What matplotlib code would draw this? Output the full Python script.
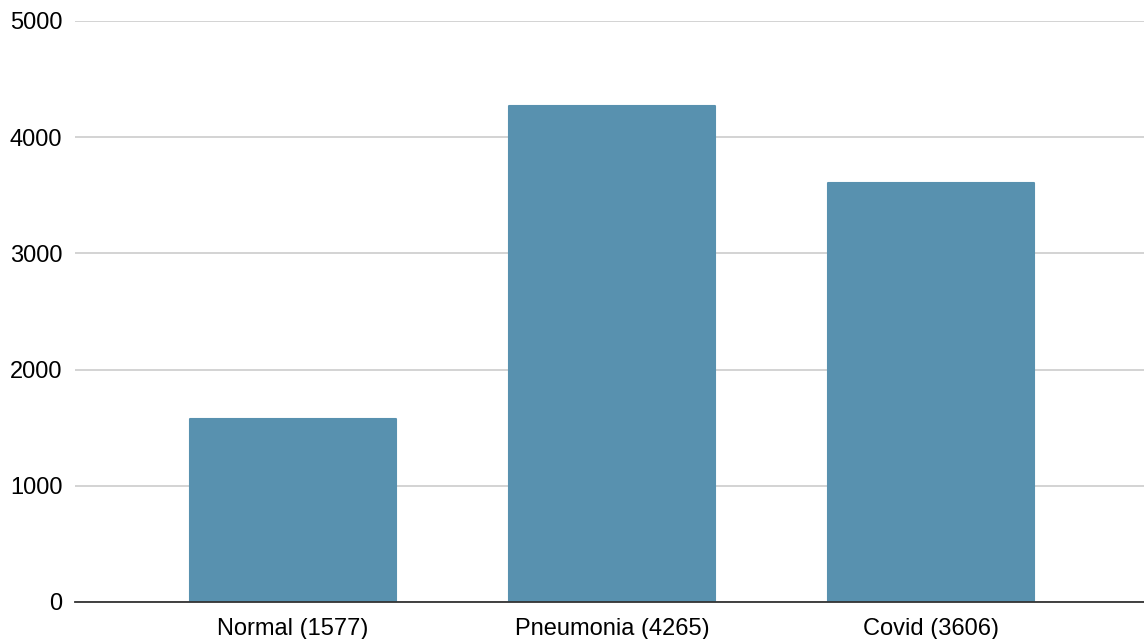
import matplotlib.pyplot as plt

plt.rcParams['font.family'] = ['Liberation Sans', 'DejaVu Sans']

classes = ["Normal", "Pneumonia", "Covid"]
counts = [1577, 4265, 3606]
labels = [f"{c} ({n})" for c, n in zip(classes, counts)]
yticks = [0, 1000, 2000, 3000, 4000, 5000]

BAR = "#5891af"

fig = plt.figure(figsize=(11.44, 6.39), dpi=100)
ax = fig.add_axes([75 / 1144, 37 / 639, 1 - 75 / 1144, 581 / 639])

x = range(len(classes))
# thin edge in the fill colour with round joins gives the soft top corners
ax.bar(x, counts, width=0.645, color=BAR, edgecolor=BAR, linewidth=1.5,
       joinstyle="round", zorder=3)

ax.set_ylim(0, 5000)
ax.set_xlim(-0.683, 2.668)
ax.set_yticks(yticks)
ax.set_xticks(list(x))
ax.set_xticklabels(labels)

ax.yaxis.grid(True, color="#c8c8c8", linewidth=1.1)
ax.set_axisbelow(True)
for s in ["top", "right", "left"]:
    ax.spines[s].set_visible(False)
ax.spines["bottom"].set_color("#333333")
ax.spines["bottom"].set_linewidth(1.3)
ax.spines["bottom"].set_zorder(4)

ax.tick_params(axis="y", length=0, pad=9, labelsize=17, labelcolor="#000000")
ax.tick_params(axis="x", length=0, pad=11.5, labelsize=17, labelcolor="#000000")

fig.savefig("out.png", dpi=100)
